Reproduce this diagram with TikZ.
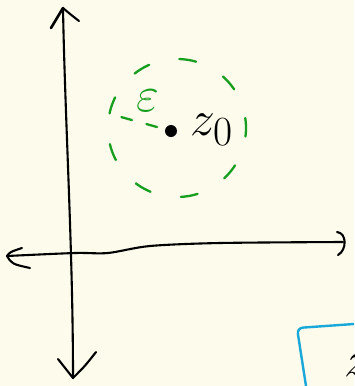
\documentclass[tikz,border=0pt]{standalone}
\usepackage{tikz}
\usetikzlibrary{
  arrows.meta,
  calc
}
\definecolor{paper}{RGB}{253, 251, 235}
\definecolor{pengreen}{RGB}{22, 158, 30}
\definecolor{penblue}{RGB}{24, 168, 218}

\begin{document}
\begin{tikzpicture}[x=1pt, y=-1pt,
  pen/.style={line width=2.1pt, line cap=round, line join=round},
  greenpen/.style={pen, draw=pengreen, line width=2.3pt}]
\clip (0,0) rectangle (354,386);
\fill[paper] (0,0) rectangle (354,386);

% axes
\coordinate (ytop) at (63,8);
\coordinate (ybot) at (73,378);
\coordinate (xleft) at (7,256);
\coordinate (xright) at (343,242);
\draw[pen] (ybot) .. controls (73,250) and (65,120) .. (ytop);
\draw[pen] plot[smooth, tension=0.5] coordinates {(xleft) (75,253) (108,253) (150,246) (220,243) (xright)};
\draw[pen, line width=2.6pt] (51,28) -- (ytop);
\draw[pen] (ytop) .. controls (70,14) .. (79,21);
\draw[pen] (58,359) -- (ybot) .. controls (85,366) .. (96,352);
\draw[pen] (22,248) .. controls (10,252) .. (xleft) .. controls (12,264) .. (30,268);
\draw[pen] (337,232) .. controls (347,233) and (347,250) .. (338,255);

% neighbourhood of z0
\coordinate (cc) at (177,128);
\draw[greenpen, dash pattern=on 17pt off 31pt, dash phase=8.5pt] (cc) circle[radius=69];
\node[circle, fill=black, inner sep=0pt, minimum size=12pt] (z0) at (171,131) {};
\draw[greenpen, dash pattern=on 11pt off 15pt] (157,127) -- (121,117);
\node[text=pengreen, font=\Huge, scale=2] (eps) at (148,101) {$\varepsilon$};
\node[anchor=west, font=\Huge, scale=2, inner sep=0pt] (z0lab) at (190,130) {$z_0$};

% box at the corner
\draw[pen, draw=penblue, line width=2.4pt, rounded corners=6pt] (306,386) -- (297,328) -- (354,324);
\node[anchor=base west, font=\Huge, scale=2, inner sep=0pt] (boxlab) at (344,376) {$z$};
\end{tikzpicture}
\end{document}
